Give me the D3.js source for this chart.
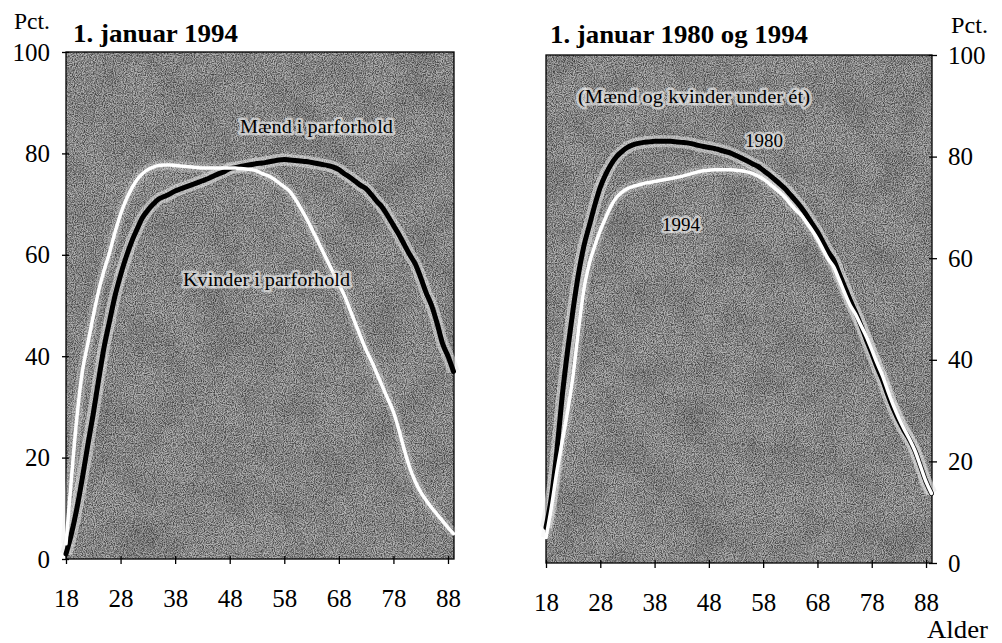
<!DOCTYPE html>
<html><head><meta charset="utf-8">
<script src="https://cdn.jsdelivr.net/npm/d3@7"></script>
<style>
body{margin:0;background:#fff;}
svg{display:block;}
text{font-family:"Liberation Serif","Times New Roman",serif;fill:#000;}
</style></head><body>
<svg id="c" width="1002" height="643"></svg>
<script>
const ages = d3.range(18, 90);
const men1994 = [1,5,10,16,22.5,28.7,35.5,41.9,47,52,56,59.5,62.5,65,67.3,68.8,70,71,71.5,72,72.6,73,73.4,73.8,74.2,74.6,75,75.5,76,76.4,77,77.2,77.4,77.6,77.8,78,78.1,78.3,78.5,78.7,78.8,78.7,78.6,78.5,78.4,78.2,78,77.8,77.6,77.3,76.8,76,75.3,74.5,73.7,73,71.8,70.5,69.3,67.6,65.8,64,62,60,58.2,55.5,52.5,50,46.5,42.5,40,37];
const women1994 = [3,16,28,37,42.5,48,53,57,60.5,64.5,68,70.8,73,74.8,76,76.8,77.3,77.6,77.7,77.7,77.6,77.5,77.4,77.3,77.2,77.1,77.1,77.1,77.1,77.1,77.1,77.1,77,76.9,76.8,76.5,76,75.6,75,74.2,73.4,72.5,71,69.2,67.3,65.2,63,60.8,58.6,56.4,54.2,52,49.3,46.5,43.8,41.2,39,36.5,34,31.5,29,25.5,21.5,18,15.3,13.2,11.6,10.1,8.8,7.5,6.2,5];
const all1980 = [7,13,22,33,42,50,57,62.5,66.5,70.5,74,76.5,78.5,80,81,81.8,82.3,82.6,82.8,82.9,83,83,83,83,82.9,82.8,82.7,82.5,82.2,82,81.8,81.6,81.3,81,80.7,80.2,79.7,79.2,78.6,78.1,77.3,76.5,75.6,74.7,73.7,72.5,71.3,70,68.5,66.8,65.2,63.2,61.2,59.6,57,54.4,51.8,49.4,46.8,44,41.3,38.5,36,33,30.3,28,26,24.2,22,19,16,13.7];
const all1994 = [5,11,18,24,30,37,46,54,59,62.5,65.5,68,70.3,72,73,73.7,74.1,74.4,74.7,74.9,75.1,75.3,75.5,75.7,75.9,76.1,76.4,76.7,77,77.2,77.3,77.4,77.4,77.4,77.4,77.3,77.2,77,76.7,76.2,75.6,74.8,73.9,73,72,70.7,69.5,68.5,67,65.5,63.8,61.8,59.8,58.3,55.8,53.2,50.8,49,46.8,44.6,42,39.3,36.8,33.8,31,28.5,26.3,24.3,22,19,16,13.7];
const xTicks = [18,28,38,48,58,68,78,88];
const yTicks = [0,20,40,60,80,100];

const svg = d3.select("#c");
const defs = svg.append("defs");
const f = defs.append("filter").attr("id","noise").attr("x",0).attr("y",0).attr("width","100%").attr("height","100%");
f.append("feTurbulence").attr("type","fractalNoise").attr("baseFrequency","0.9").attr("numOctaves",2).attr("seed",4).attr("result","t");
f.append("feColorMatrix").attr("in","t").attr("type","matrix")
 .attr("values","0 0 0 0 0  0 0 0 0 0  0 0 0 0 0  2.4 0 0 0 -0.8");
const f2 = defs.append("filter").attr("id","blotch").attr("x",0).attr("y",0).attr("width","100%").attr("height","100%");
f2.append("feTurbulence").attr("type","fractalNoise").attr("baseFrequency","0.025").attr("numOctaves",3).attr("seed",7).attr("result","t");
f2.append("feColorMatrix").attr("in","t").attr("type","matrix")
 .attr("values","0 0 0 0 0  0 0 0 0 0  0 0 0 0 0  1.2 0 0 0 -0.45");

function panel(o){
  const x = d3.scaleLinear().domain([18,89.1]).range([o.x0,o.x1]);
  const y = d3.scaleLinear().domain([0,100]).range([o.y0,o.y1]);
  const g = svg.append("g");
  const bg = ()=>g.append("rect").attr("x",o.x0).attr("y",o.y1).attr("width",o.x1-o.x0).attr("height",o.y0-o.y1);
  bg().attr("fill","#b3b3b3");
  bg().attr("fill","#000").attr("filter","url(#blotch)").attr("opacity",0.22);
  bg().attr("fill","#000").attr("filter","url(#noise)").attr("opacity",0.6);
  bg().attr("fill","none").attr("stroke","#000").attr("stroke-width",1.3);
  const line = d3.line().x((d,i)=>x(ages[i])).y(d=>y(d)).curve(d3.curveMonotoneX);
  o.series.forEach(s=>{
    g.append("path").attr("d",line(s.v)).attr("fill","none").attr("stroke","#e8e8e8").attr("stroke-opacity",s.ho)
     .attr("stroke-width",s.w+7).attr("stroke-linejoin","round");
  });
  o.series.forEach(s=>{
    g.append("path").attr("d",line(s.v)).attr("fill","none").attr("stroke",s.c)
     .attr("stroke-width",s.w).attr("stroke-linejoin","round").attr("stroke-linecap","round");
  });
  g.append("g").attr("transform",`translate(0,${o.y0})`)
    .call(d3.axisBottom(x).tickValues(xTicks).tickSize(5).tickPadding(25));
  g.append("g").attr("transform",`translate(0,${o.y0})`)
    .call(d3.axisTop(x).tickValues(xTicks).tickSize(3).tickFormat(""));
  if(o.side==="left"){
    g.append("g").attr("transform",`translate(${o.x0},0)`).call(d3.axisLeft(y).tickValues(yTicks).tickSize(4).tickPadding(12));
    g.append("g").attr("transform",`translate(${o.x0},0)`).call(d3.axisRight(y).tickValues(yTicks).tickSize(3).tickFormat(""));
  } else {
    g.append("g").attr("transform",`translate(${o.x1},0)`).call(d3.axisRight(y).tickValues(yTicks).tickSize(5).tickPadding(11));
    g.append("g").attr("transform",`translate(${o.x1},0)`).call(d3.axisLeft(y).tickValues(yTicks).tickSize(3).tickFormat(""));
  }
  g.selectAll(".domain").remove();
  g.selectAll(".tick line").attr("stroke","#000").attr("stroke-width",1.3);
  g.selectAll(".tick text").attr("font-family","Liberation Serif, serif").attr("font-size",25).attr("fill","#000");
  return {g,x,y};
}

panel({x0:66,x1:454,y0:559,y1:52,side:"left",
  series:[{v:men1994,c:"#000",w:5,ho:0.55},{v:women1994,c:"#fff",w:3.5,ho:0.25}]});
panel({x0:546,x1:932,y0:563,y1:55,side:"right",
  series:[{v:all1980,c:"#000",w:5,ho:0.55},{v:all1994,c:"#fff",w:3.5,ho:0.25}]});

function label(t,x,y,size,opts={}){
  const el = svg.append("text").attr("x",x).attr("y",y).attr("font-size",size)
    .attr("font-family","Liberation Serif, serif").text(t);
  if(opts.bold) el.attr("font-weight","bold");
  if(opts.halo) el.attr("stroke","#e6e6e6").attr("stroke-opacity",0.7).attr("stroke-width",5).attr("paint-order","stroke").attr("stroke-linejoin","round");
  if(opts.len) el.attr("textLength",opts.len).attr("lengthAdjust","spacingAndGlyphs");
  return el;
}
label("Pct.",14,29,24,{len:36});
label("1. januar 1994",73,42,26,{bold:true,len:165});
label("1. januar 1980 og 1994",550,43,26,{bold:true,len:258});
label("Pct.",951,33,24,{len:37});
label("Alder",927,638,25,{len:61});
label("Mænd i parforhold",240,133,19,{halo:true,len:153});
label("Kvinder i parforhold",183,286,19,{halo:true,len:167});
label("(Mænd og kvinder under ét)",578,103,18,{halo:true,len:232});
label("1980",745,147,19,{halo:true});
label("1994",662,231,19,{halo:true});
</script>
</body></html>
